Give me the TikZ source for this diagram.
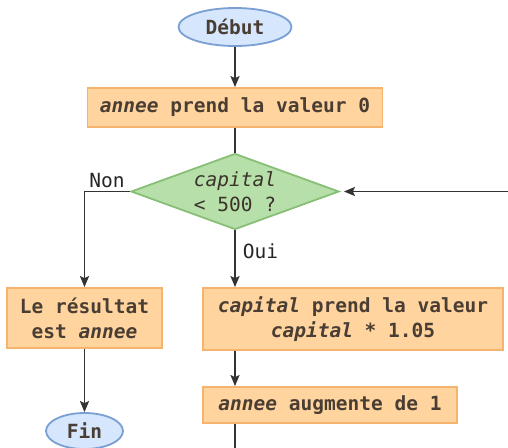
\documentclass[tikz,border=0pt]{standalone}
\usepackage{fontspec}
\setmonofont{DejaVu Sans Mono}
\usetikzlibrary{shapes.geometric,arrows.meta}

\definecolor{inkText}{HTML}{4A3E34}
\definecolor{inkLine}{HTML}{333333}
\definecolor{termFill}{HTML}{D6E6FC}
\definecolor{termEdge}{HTML}{7A9FD2}
\definecolor{procFill}{HTML}{FFD49E}
\definecolor{procEdge}{HTML}{F5B36E}
\definecolor{testFill}{HTML}{B7DFAA}
\definecolor{testEdge}{HTML}{86BF75}

\tikzset{
  txt/.style={font=\ttfamily\bfseries\fontsize{19.5}{25}\selectfont, text=inkText},
  terminal/.style={txt, ellipse, draw=termEdge, fill=termFill, line width=1.8pt, inner sep=0pt},
  process/.style={txt, rectangle, draw=procEdge, fill=procFill, line width=1.8pt, inner sep=0pt, align=center},
  decision/.style={font=\ttfamily\fontsize{19.5}{25}\selectfont, text=inkText!80!black,
    diamond, draw=testEdge, fill=testFill, line width=1.8pt, inner sep=0pt, aspect=2.7, align=center},
  tag/.style={font=\ttfamily\fontsize{19.5}{25}\selectfont, text=black!85, inner sep=0pt},
  flow/.style={draw=inkLine, line width=1.8pt},
  arrow/.style={flow, -{Stealth[length=11pt,width=9pt,inset=2pt]}}
}

\begin{document}
\begin{tikzpicture}[x=1pt,y=-1pt]
  \useasboundingbox (0,0) rectangle (508,447);
  \clip (0,0) rectangle (508,447);

  % nodes of the flowchart
  \node[terminal, minimum width=113pt, minimum height=38pt] (debut) at (235,27) {Début};
  \node[process, minimum width=295pt, minimum height=39pt] (init) at (235,107.5)
    {{\itshape annee} prend la valeur 0};
  \node[decision, minimum width=208pt, minimum height=76pt] (test) at (235,191.5)
    {{\itshape capital}\\< 500 ?};
  \node[process, minimum width=155pt, minimum height=60pt] (result) at (84.5,318)
    {Le résultat\\est {\itshape annee}};
  \node[process, minimum width=300pt, minimum height=62pt] (mult) at (353,319)
    {{\itshape capital} prend la valeur\\{\itshape capital} * 1.05};
  \node[process, minimum width=254pt, minimum height=36pt] (incr) at (330,405)
    {{\itshape annee} augmente de 1};
  \node[terminal, minimum width=77pt, minimum height=36pt] (fin) at (84.5,431) {Fin};

  % branch labels
  \node[tag] (non) at (107,181) {Non};
  \node[tag] (oui) at (260.5,251) {Oui};

  % loop ends leaving the frame
  \coordinate (loopin) at (512,191.5);
  \coordinate (loopout) at (235,452);

  % connectors
  \draw[arrow] (debut.south) -- (init.north);
  \draw[flow] (init.south) -- (test.north);
  \draw[arrow] (test.west) -| (result.north);
  \draw[arrow] (test.south) -- (test.south |- mult.north);
  \draw[arrow] (result.south) -- (fin.north);
  \draw[arrow] (test.south |- mult.south) -- (test.south |- incr.north);
  \draw[flow] (test.south |- incr.south) -- (loopout);
  \draw[arrow, shorten >=4pt] (loopin) -- (test.east);
\end{tikzpicture}
\end{document}
